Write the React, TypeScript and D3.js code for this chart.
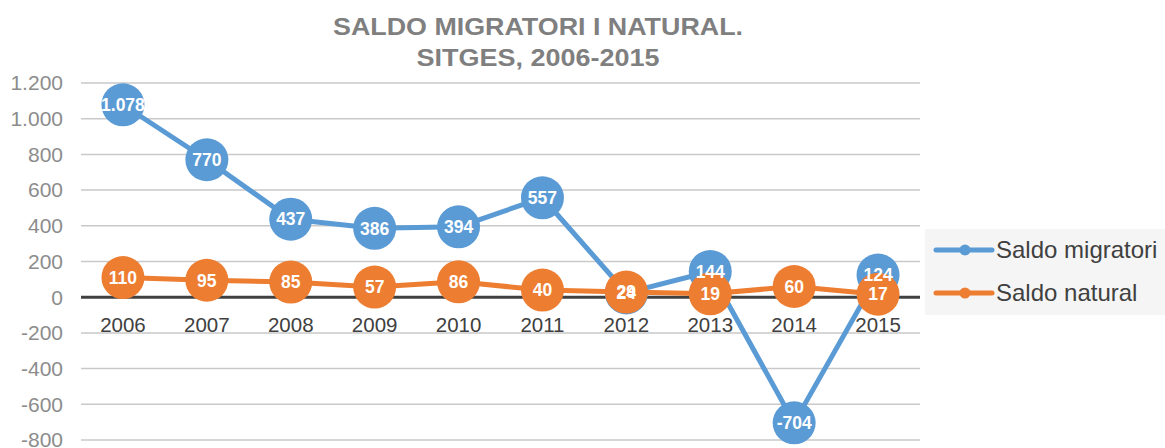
import * as d3 from 'd3'

const YEARS = ['2006', '2007', '2008', '2009', '2010', '2011', '2012', '2013', '2014', '2015']
const MIGRATORI = [1078, 770, 437, 386, 394, 557, 24, 144, -704, 124]
const NATURAL = [110, 95, 85, 57, 86, 40, 29, 19, 60, 17]
const Y_TICKS = [-800, -600, -400, -200, 0, 200, 400, 600, 800, 1000, 1200]

const SERIES = [
  { name: 'Saldo migratori', values: MIGRATORI, color: '#5b9bd5' },
  { name: 'Saldo natural', values: NATURAL, color: '#ed7d31' },
]

const WIDTH = 1165
const HEIGHT = 448
const PLOT = { left: 81, right: 920, top: 83, bottom: 440 }
const FONT = 'Arial, "Liberation Sans", sans-serif'

// thousands with a dot, plain hyphen for negatives
const fmt = (v: number) =>
  d3.format(',')(v).replace(/,/g, '.').replace('\u2212', '-')

export default function App() {
  const x = d3.scaleBand().domain(YEARS).range([PLOT.left, PLOT.right])
  const cx = (yr: string) => (x(yr) ?? 0) + x.bandwidth() / 2
  const y = d3.scaleLinear().domain([-800, 1200]).range([PLOT.bottom, PLOT.top])

  const line = d3
    .line<number>()
    .x((_, i) => cx(YEARS[i]))
    .y((v) => y(v))

  return (
    <svg
      width={WIDTH}
      height={HEIGHT}
      style={{ position: 'absolute', left: 0, top: 0, background: '#fff' }}
      fontFamily={FONT}
    >
      <text textAnchor="middle" fontSize={24} fontWeight="bold" fill="#7f7f7f">
        <tspan x={538} y={35} textLength={410} lengthAdjust="spacingAndGlyphs">
          SALDO MIGRATORI I NATURAL.
        </tspan>
        <tspan x={538} y={66} textLength={243} lengthAdjust="spacingAndGlyphs">
          SITGES, 2006-2015
        </tspan>
      </text>

      {Y_TICKS.filter((t) => t !== 0).map((t) => (
        <line
          key={t}
          x1={PLOT.left}
          x2={PLOT.right}
          y1={y(t)}
          y2={y(t)}
          stroke="#c9c9c9"
          strokeWidth={1.5}
        />
      ))}

      {Y_TICKS.map((t) => (
        <text
          key={t}
          x={63}
          y={y(t)}
          dy="0.35em"
          textAnchor="end"
          fontSize={21}
          fill="#8c8c8c"
        >
          {fmt(t)}
        </text>
      ))}

      {YEARS.map((yr) => (
        <text
          key={yr}
          x={cx(yr)}
          y={y(0) + 35}
          textAnchor="middle"
          fontSize={20.5}
          fill="#404040"
        >
          {yr}
        </text>
      ))}

      <line
        x1={PLOT.left}
        x2={PLOT.right}
        y1={y(0)}
        y2={y(0)}
        stroke="#404040"
        strokeWidth={3}
      />

      {SERIES.map((s) => (
        <g key={s.name}>
          <path
            d={line(s.values) ?? ''}
            fill="none"
            stroke={s.color}
            strokeWidth={5}
            strokeLinejoin="round"
          />
          {s.values.map((v, i) => (
            <circle key={i} cx={cx(YEARS[i])} cy={y(v)} r={21.5} fill={s.color} />
          ))}
        </g>
      ))}

      {/* data labels sit above every series' markers */}
      {SERIES.map((s) => (
        <g key={s.name + '-labels'}>
          {s.values.map((v, i) => (
            <text
              key={i}
              x={cx(YEARS[i])}
              y={y(v)}
              dy="0.36em"
              textAnchor="middle"
              fontSize={17.5}
              fontWeight="bold"
              fill="#fff"
            >
              {fmt(v)}
            </text>
          ))}
        </g>
      ))}

      <rect x={925} y={229} width={240} height={86} fill="#f5f5f5" />
      {SERIES.map((s, i) => {
        const ly = 250 + i * 43
        return (
          <g key={s.name}>
            <line x1={936} x2={992} y1={ly} y2={ly} stroke={s.color} strokeWidth={5} strokeLinecap="round" />
            <circle cx={965} cy={ly} r={5.5} fill={s.color} />
            <text x={996} y={ly} dy="0.35em" fontSize={24} fill="#404040">
              {s.name}
            </text>
          </g>
        )
      })}
    </svg>
  )
}
